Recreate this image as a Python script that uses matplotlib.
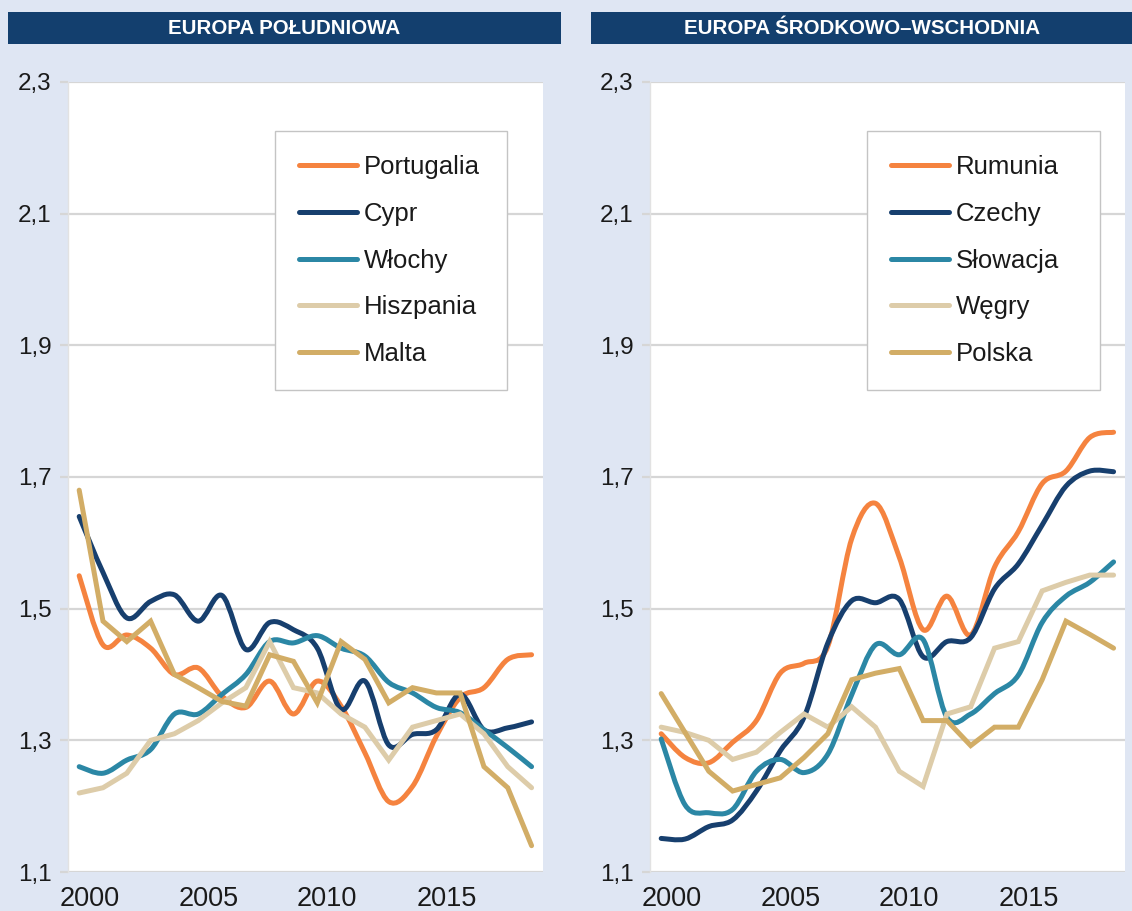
import matplotlib
matplotlib.use("Agg")
import matplotlib.pyplot as plt
from matplotlib.path import Path
from matplotlib.patches import PathPatch, Rectangle
from matplotlib.lines import Line2D
import matplotlib.transforms as mtransforms
import numpy as np

plt.rcParams['font.family'] = ['Liberation Sans', 'DejaVu Sans']

years = list(range(2000, 2020))

# --- Europa Południowa ---
south_names = ["Portugalia", "Cypr", "Włochy", "Hiszpania", "Malta"]
portugalia = [1.55, 1.445, 1.46, 1.44, 1.40, 1.41, 1.367, 1.35, 1.39, 1.34,
              1.39, 1.352, 1.281, 1.207, 1.23, 1.306, 1.365, 1.38, 1.423, 1.43]
cypr = [1.64, 1.555, 1.486, 1.511, 1.521, 1.481, 1.52, 1.438, 1.479, 1.468,
        1.44, 1.347, 1.39, 1.293, 1.309, 1.316, 1.37, 1.316, 1.319, 1.328]
wlochy = [1.26, 1.25, 1.27, 1.286, 1.34, 1.34, 1.37, 1.40, 1.45, 1.448,
          1.459, 1.44, 1.428, 1.388, 1.372, 1.35, 1.342, 1.316, 1.289, 1.26]
hiszpania = [1.22, 1.228, 1.25, 1.30, 1.31, 1.33, 1.357, 1.38, 1.45, 1.38,
             1.372, 1.34, 1.32, 1.27, 1.32, 1.33, 1.34, 1.31, 1.26, 1.228]
malta = [1.68, 1.481, 1.45, 1.481, 1.40, 1.38, 1.359, 1.352, 1.43, 1.42,
         1.357, 1.45, 1.423, 1.357, 1.38, 1.372, 1.372, 1.26, 1.228, 1.14]

# --- Europa Środkowo-Wschodnia ---
east_names = ["Rumunia", "Czechy", "Słowacja", "Węgry", "Polska"]
rumunia = [1.31, 1.274, 1.266, 1.297, 1.33, 1.402, 1.417, 1.443, 1.606, 1.66,
           1.578, 1.468, 1.519, 1.46, 1.563, 1.617, 1.69, 1.709, 1.76, 1.768]
czechy = [1.151, 1.15, 1.169, 1.179, 1.223, 1.284, 1.335, 1.448, 1.512, 1.509,
          1.514, 1.427, 1.45, 1.456, 1.53, 1.568, 1.627, 1.686, 1.709, 1.708]
slowacja = [1.302, 1.202, 1.19, 1.195, 1.253, 1.271, 1.251, 1.279, 1.369, 1.445,
            1.43, 1.453, 1.335, 1.34, 1.371, 1.399, 1.479, 1.519, 1.54, 1.571]
wegry = [1.32, 1.312, 1.30, 1.271, 1.282, 1.312, 1.34, 1.32, 1.351, 1.32,
         1.253, 1.23, 1.34, 1.351, 1.44, 1.45, 1.527, 1.54, 1.551, 1.551]
polska = [1.371, 1.312, 1.253, 1.223, 1.233, 1.243, 1.274, 1.31, 1.392, 1.402,
          1.409, 1.33, 1.33, 1.292, 1.32, 1.32, 1.392, 1.481, 1.461, 1.44]

yticks = [1.1, 1.3, 1.5, 1.7, 1.9, 2.1, 2.3]
ytick_labels = ["1,1", "1,3", "1,5", "1,7", "1,9", "2,1", "2,3"]
xticks = [2000, 2005, 2010, 2015]
xtick_labels = ["2000", "2005", "2010", "2015"]

colors = ["#f5833f", "#173f6e", "#2b87a5", "#ddcca9", "#d2ad66"]
smoothed = [True, True, True, False, False]

BG = "#dfe6f3"
BAR = "#133f6e"
GRID = "#d6d6d6"

W, H = 1132, 911
fig = plt.figure(figsize=(11.32, 9.11), dpi=100, facecolor=BG)


def smooth_path(x, y):
    pts = np.column_stack([np.asarray(x, float), np.asarray(y, float)])
    n = len(pts)
    verts = [pts[0]]
    codes = [Path.MOVETO]
    for i in range(n - 1):
        p0 = pts[i - 1] if i > 0 else pts[i]
        p1 = pts[i]
        p2 = pts[i + 1]
        p3 = pts[i + 2] if i + 2 < n else pts[i + 1]
        verts += [p1 + (p2 - p0) / 6.0, p2 - (p3 - p1) / 6.0, p2]
        codes += [Path.CURVE4] * 3
    return Path(verts, codes)


def panel(rect, title, bar_rect, names, series, leg_box):
    ax = fig.add_axes(rect)
    ax.set_facecolor("white")
    ax.set_xlim(1999.53, 2019.48)
    ax.set_ylim(1.1, 2.3)
    for sp in ["top", "right", "bottom"]:
        ax.spines[sp].set_visible(False)
    ax.spines["left"].set_color("#e2e2e2")
    ax.spines["left"].set_linewidth(1.0)
    ax.set_yticks(yticks)
    ax.set_yticklabels(ytick_labels)
    ax.set_xticks(xticks)
    ax.set_xticklabels(xtick_labels)
    ax.grid(axis="y", color=GRID, linewidth=1.6, zorder=0)
    ax.set_axisbelow(True)
    ax.tick_params(axis="y", length=6, width=1.6, color=GRID, pad=6,
                   labelsize=17.5, labelcolor="#1a1a1a")
    ax.tick_params(axis="x", length=0, pad=10, labelsize=19.5,
                   labelcolor="#1a1a1a")
    off = mtransforms.ScaledTranslation(10 / 100, 0, fig.dpi_scale_trans)
    for lab in ax.get_xticklabels():
        lab.set_transform(lab.get_transform() + off)

    handles = []
    for k, (name, vals) in enumerate(zip(names, series)):
        c = colors[k]
        if smoothed[k]:
            patch = PathPatch(smooth_path(years, vals), facecolor="none",
                              edgecolor=c, linewidth=3.6, capstyle="round",
                              joinstyle="round", zorder=2 + k)
            ax.add_patch(patch)
        else:
            ax.plot(years, vals, color=c, linewidth=3.6,
                    solid_capstyle="round", solid_joinstyle="miter",
                    zorder=2 + k)
        handles.append(Line2D([], [], color=c, linewidth=3.6,
                              solid_capstyle="round"))

    # legend box in pixel coords -> axes fraction
    lx0, ly0, lx1, ly1 = leg_box
    ax_x0 = rect[0] * W
    ax_w = rect[2] * W
    bx = (lx0 - ax_x0) / ax_w
    bw = (lx1 - lx0) / ax_w
    by_top = (872 - ly0) / 790
    leg = ax.legend(handles, names, loc="upper left", mode="expand",
                    bbox_to_anchor=(bx, by_top - 0.4, bw, 0.4), fontsize=18.5,
                    frameon=True, fancybox=False, edgecolor="#c4c4c4",
                    framealpha=1, borderpad=0.95, labelspacing=0.88,
                    handlelength=2.25, handletextpad=0.25,
                    borderaxespad=0)
    leg.get_frame().set_linewidth(1.0)
    for t in leg.get_texts():
        t.set_color("#1a1a1a")

    # title bar
    x0, y0, w, h = bar_rect
    fig.add_artist(Rectangle((x0 / W, 1 - (y0 + h) / H), w / W, h / H,
                             transform=fig.transFigure, facecolor=BAR,
                             edgecolor="none"))
    fig.text((x0 + w / 2) / W, 1 - (y0 + h / 2) / H, title,
             color="white", fontsize=14.8, fontweight="bold",
             ha="center", va="center")
    return ax


top, bottom = 82, 872
panel([68 / W, 1 - bottom / H, 475 / W, (bottom - top) / H],
      "EUROPA POŁUDNIOWA", (8, 12, 553, 32),
      south_names, [portugalia, cypr, wlochy, hiszpania, malta],
      (275, 131, 507, 393))
panel([650 / W, 1 - bottom / H, 475 / W, (bottom - top) / H],
      "EUROPA ŚRODKOWO–WSCHODNIA", (591, 12, 541, 32),
      east_names, [rumunia, czechy, slowacja, wegry, polska],
      (867, 131, 1100, 393))

fig.savefig("out.png", dpi=100, facecolor=BG)
